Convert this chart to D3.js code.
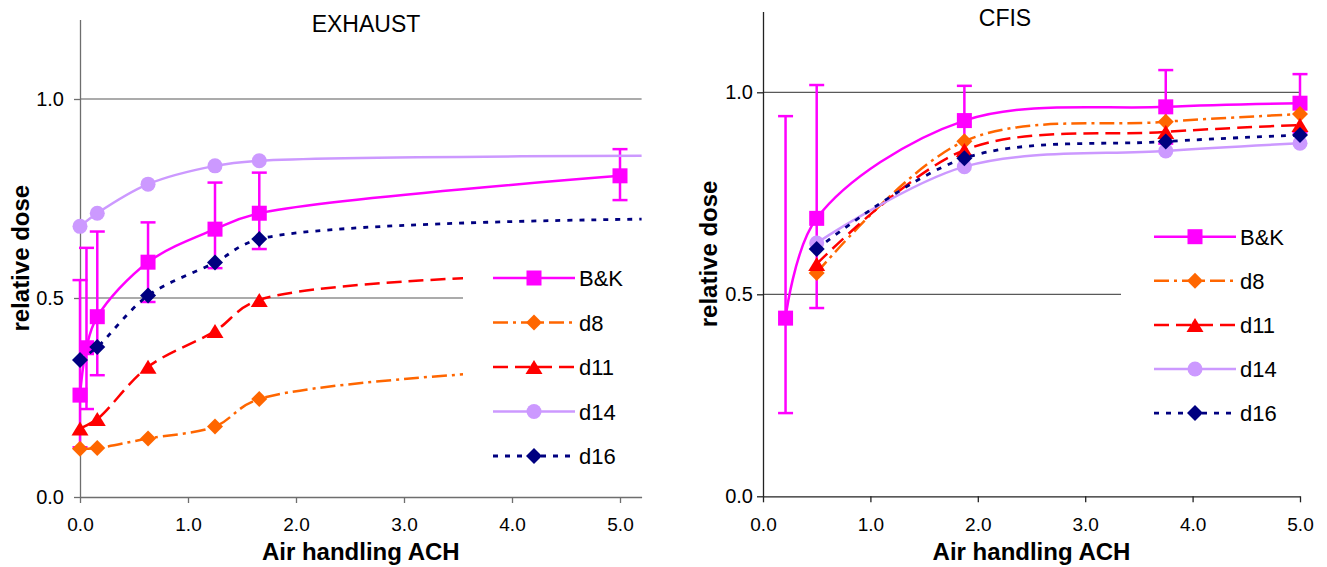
<!DOCTYPE html>
<html>
<head>
<meta charset="utf-8">
<script src="https://cdn.jsdelivr.net/npm/d3@7"></script>
<style>
  html, body { margin: 0; padding: 0; background: #fff; }
  svg { display: block; font-family: "Liberation Sans", Arial, Helvetica, sans-serif; }
</style>
</head>
<body>
<svg id="chart" width="1327" height="567"></svg>
<script>
// ---------------- DATA ----------------
const xTickValues = [0, 1, 2, 3, 4, 5];
const yTickValues = [0, 0.5, 1.0];
const seriesNames = ["B&K", "d8", "d11", "d14", "d16"];

// EXHAUST panel
const exhaustBKx  = [0, 0.06, 0.16, 0.63, 1.25, 1.66, 5.0];
const exhaustBK   = [0.256, 0.375, 0.453, 0.590, 0.673, 0.713, 0.807];
const exhaustBKhi = [0.545, 0.626, 0.667, 0.690, 0.790, 0.815, 0.874];
const exhaustBKlo = [0.125, 0.221, 0.306, 0.490, 0.575, 0.623, 0.746];
const exhaustSimX = [0, 0.16, 0.63, 1.25, 1.66, 6.0];
const exhaustD8   = [0.121, 0.123, 0.147, 0.177, 0.246, 0.345];
const exhaustD11  = [0.172, 0.196, 0.327, 0.417, 0.495, 0.570];
const exhaustD14  = [0.680, 0.713, 0.786, 0.832, 0.845, 0.858];
const exhaustD16  = [0.344, 0.377, 0.506, 0.589, 0.648, 0.700];

// CFIS panel
const cfisBKx  = [0.21, 0.5, 1.875, 3.75, 5.0];
const cfisBK   = [0.441, 0.688, 0.930, 0.964, 0.973];
const cfisBKhi = [0.941, 1.018, 1.016, 1.055, 1.045];
const cfisBKlo = [0.206, 0.466, 0.844, 0.873, 0.901];
const cfisSimX = [0.5, 1.875, 3.75, 5.0];
const cfisD8   = [0.553, 0.879, 0.927, 0.946];
const cfisD11  = [0.575, 0.857, 0.902, 0.919];
const cfisD14  = [0.627, 0.816, 0.855, 0.874];
const cfisD16  = [0.612, 0.837, 0.878, 0.894];

// ---------------- STYLES ----------------
const styles = {
  "B&K": { color: "#FF00FF", dash: null,        marker: "square",   width: 2.5 },
  "d8":  { color: "#FF6600", dash: "15,5,3,5",  marker: "diamond",  width: 2.5 },
  "d11": { color: "#FF0000", dash: "15,7",      marker: "triangle", width: 2.5 },
  "d14": { color: "#CC99FF", dash: null,        marker: "circle",   width: 2.5 },
  "d16": { color: "#000080", dash: "5,7",       marker: "diamond",  width: 2.8 }
};

const svg = d3.select("#chart");

function drawMarker(g, type, cx, cy, color) {
  if (type === "square") {
    g.append("rect").attr("x", cx - 7.5).attr("y", cy - 7.5).attr("width", 15).attr("height", 15).attr("fill", color);
  } else if (type === "diamond") {
    g.append("path").attr("d", `M${cx},${cy-8}L${cx+8},${cy}L${cx},${cy+8}L${cx-8},${cy}Z`).attr("fill", color);
  } else if (type === "triangle") {
    g.append("path").attr("d", `M${cx},${cy-7}L${cx+8.5},${cy+7}L${cx-8.5},${cy+7}Z`).attr("fill", color);
  } else if (type === "circle") {
    g.append("circle").attr("cx", cx).attr("cy", cy).attr("r", 7.5).attr("fill", color);
  }
}

function panel(cfg) {
  const x = d3.scaleLinear().domain(cfg.xDomain).range(cfg.xRange);
  const y = d3.scaleLinear().domain([0, 1.2]).range(cfg.yRange);
  const g = svg.append("g");
  const clipId = "clip" + cfg.id;
  svg.append("clipPath").attr("id", clipId).append("rect")
    .attr("x", cfg.xRange[0]).attr("y", cfg.yRange[1])
    .attr("width", cfg.xRange[1] - cfg.xRange[0]).attr("height", cfg.yRange[0] - cfg.yRange[1]);

  // gridlines
  [0.5, 1.0].forEach(v => {
    g.append("line").attr("x1", x(0)).attr("x2", cfg.xRange[1])
      .attr("y1", y(v)).attr("y2", y(v))
      .attr("stroke", "#595959").attr("stroke-width", 1.2);
  });

  // axes
  const ax = g.append("g").attr("transform", `translate(0,${cfg.yRange[0]})`)
    .call(d3.axisBottom(x).tickValues(xTickValues.filter(v => v <= cfg.xDomain[1])).tickFormat(d3.format(".1f")).tickSize(6).tickSizeOuter(0));
  ax.selectAll("text").attr("y", 531 - cfg.yRange[0]).attr("dy", 0)
    .style("font-size", "19px").attr("fill", "#000");
  const ay = g.append("g").attr("transform", `translate(${cfg.xRange[0]},0)`)
    .call(d3.axisLeft(y).tickValues(yTickValues).tickFormat(d3.format(".1f")).tickSize(6).tickSizeOuter(0).tickPadding(cfg.yPad));
  ay.selectAll("text").style("font-size", "20px").attr("fill", "#000");
  [ax, ay].forEach(a => {
    a.select(".domain").attr("stroke", cfg.axisColor).attr("stroke-width", 1.3);
    a.selectAll(".tick line").attr("stroke", cfg.axisColor).attr("stroke-width", 1.3);
    a.attr("font-family", null);
  });

  // series
  const line = d3.line().x(d => x(d[0])).y(d => y(d[1])).curve(d3.curveCatmullRom.alpha(0.5));
  cfg.series.forEach(s => {
    const st = styles[s.name];
    const pts = s.x.map((xv, i) => [xv, s.y[i]]);
    g.append("path").attr("d", line(pts)).attr("fill", "none")
      .attr("stroke", st.color).attr("stroke-width", st.width)
      .attr("stroke-dasharray", st.dash).attr("clip-path", `url(#${clipId})`);
    if (s.hi) {
      s.x.forEach((xv, i) => {
        const px = x(xv);
        g.append("line").attr("x1", px).attr("x2", px).attr("y1", y(s.hi[i])).attr("y2", y(s.lo[i]))
          .attr("stroke", st.color).attr("stroke-width", 2.5);
        [s.hi[i], s.lo[i]].forEach(v => {
          g.append("line").attr("x1", px - 7.5).attr("x2", px + 7.5).attr("y1", y(v)).attr("y2", y(v))
            .attr("stroke", st.color).attr("stroke-width", 2.5);
        });
      });
    }
    pts.forEach(p => {
      if (p[0] <= cfg.xDomain[1]) drawMarker(g, st.marker, x(p[0]), y(p[1]), st.color);
    });
  });

  // legend box
  const L = cfg.legend;
  g.append("rect").attr("x", L.boxX).attr("y", L.boxY).attr("width", L.boxW).attr("height", L.boxH).attr("fill", "#fff");
  seriesNames.forEach((name, i) => {
    const st = styles[name];
    const ry = L.y0 + i * L.dy;
    g.append("line").attr("x1", L.x).attr("x2", L.x + 82).attr("y1", ry).attr("y2", ry)
      .attr("stroke", st.color).attr("stroke-width", st.width).attr("stroke-dasharray", st.dash);
    drawMarker(g, st.marker, L.x + 41, ry, st.color);
    g.append("text").attr("x", L.x + 86).attr("y", ry + 8).text(name)
      .style("font-size", "22px").attr("fill", "#000");
  });

  // titles
  g.append("text").attr("x", cfg.titleX).attr("y", cfg.titleY).attr("text-anchor", "middle")
    .style("font-size", "23px").text(cfg.title);
  g.append("text").attr("x", (cfg.xRange[0] + cfg.xRange[1]) / 2).attr("y", 560).attr("text-anchor", "middle")
    .style("font-size", "24px").style("font-weight", "bold").text("Air handling ACH");
  g.append("text").attr("transform", `translate(${cfg.yTitleX},${(cfg.yRange[0] + cfg.yRange[1]) / 2}) rotate(-90)`)
    .attr("text-anchor", "middle").style("font-size", "24px").style("font-weight", "bold").text("relative dose");
}

panel({
  id: "L", title: "EXHAUST", titleX: 366, titleY: 32,
  xDomain: [0, 5.2], xRange: [80, 641.6], yRange: [497, 19.4], yPad: 10, yTitleX: 29,
  axisColor: "#6e6e6e",
  legend: { boxX: 463, boxY: 258, boxW: 190, boxH: 222, x: 493, y0: 278, dy: 44.5 },
  series: [
    { name: "B&K", x: exhaustBKx, y: exhaustBK, hi: exhaustBKhi, lo: exhaustBKlo },
    { name: "d8",  x: exhaustSimX, y: exhaustD8 },
    { name: "d11", x: exhaustSimX, y: exhaustD11 },
    { name: "d14", x: exhaustSimX, y: exhaustD14 },
    { name: "d16", x: exhaustSimX, y: exhaustD16 }
  ]
});

panel({
  id: "R", title: "CFIS", titleX: 1005, titleY: 26,
  xDomain: [0, 5], xRange: [763, 1300], yRange: [496.3, 11.5], yPad: 4, yTitleX: 717,
  axisColor: "#222",
  legend: { boxX: 1121, boxY: 214, boxW: 195, boxH: 222, x: 1154, y0: 236.7, dy: 44.1 },
  series: [
    { name: "B&K", x: cfisBKx, y: cfisBK, hi: cfisBKhi, lo: cfisBKlo },
    { name: "d8",  x: cfisSimX, y: cfisD8 },
    { name: "d11", x: cfisSimX, y: cfisD11 },
    { name: "d14", x: cfisSimX, y: cfisD14 },
    { name: "d16", x: cfisSimX, y: cfisD16 }
  ]
});
</script>
</body>
</html>
